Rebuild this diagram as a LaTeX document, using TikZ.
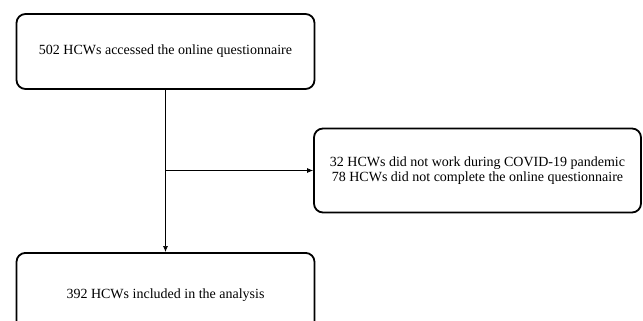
\documentclass[tikz,border=0pt]{standalone}
\usepackage{fontspec}
\setmainfont{Liberation Serif}
\usetikzlibrary{arrows.meta}
\begin{document}
\begin{tikzpicture}[x=1pt,y=-1pt,
  txt/.style={font=\fontsize{14}{15}\selectfont, align=center},
  flowbox/.style={txt, draw=black, line width=1.8pt, rounded corners=9pt, fill=white, inner sep=0pt},
  conn/.style={draw=black, line width=0.7pt}]
\useasboundingbox (0,0) rectangle (643,321);
\clip (0,0) rectangle (643,321);
\node[flowbox, minimum width=298pt, minimum height=75pt] (top) at (165.5,51.5) {502 HCWs accessed the online questionnaire};
\node[flowbox, minimum width=327pt, minimum height=84pt] (excl) at (477.5,170.5) {32 HCWs did not work during COVID-19 pandemic\\78 HCWs did not complete the online questionnaire};
\node[flowbox, minimum width=298pt, minimum height=80pt, anchor=north] (bot) at (165.5,252) {};
\node[txt] (bottext) at (165.5,295) {392 HCWs included in the analysis};
\coordinate (split) at (top.south |- excl.west);
\draw[conn] (top.south) -- (split);
\draw[conn, -{Latex[length=6pt,width=5pt]}] (split) -- (excl.west);
\draw[conn, -{Latex[length=6pt,width=5pt]}] (split) -- (bot.north);
\end{tikzpicture}
\end{document}
